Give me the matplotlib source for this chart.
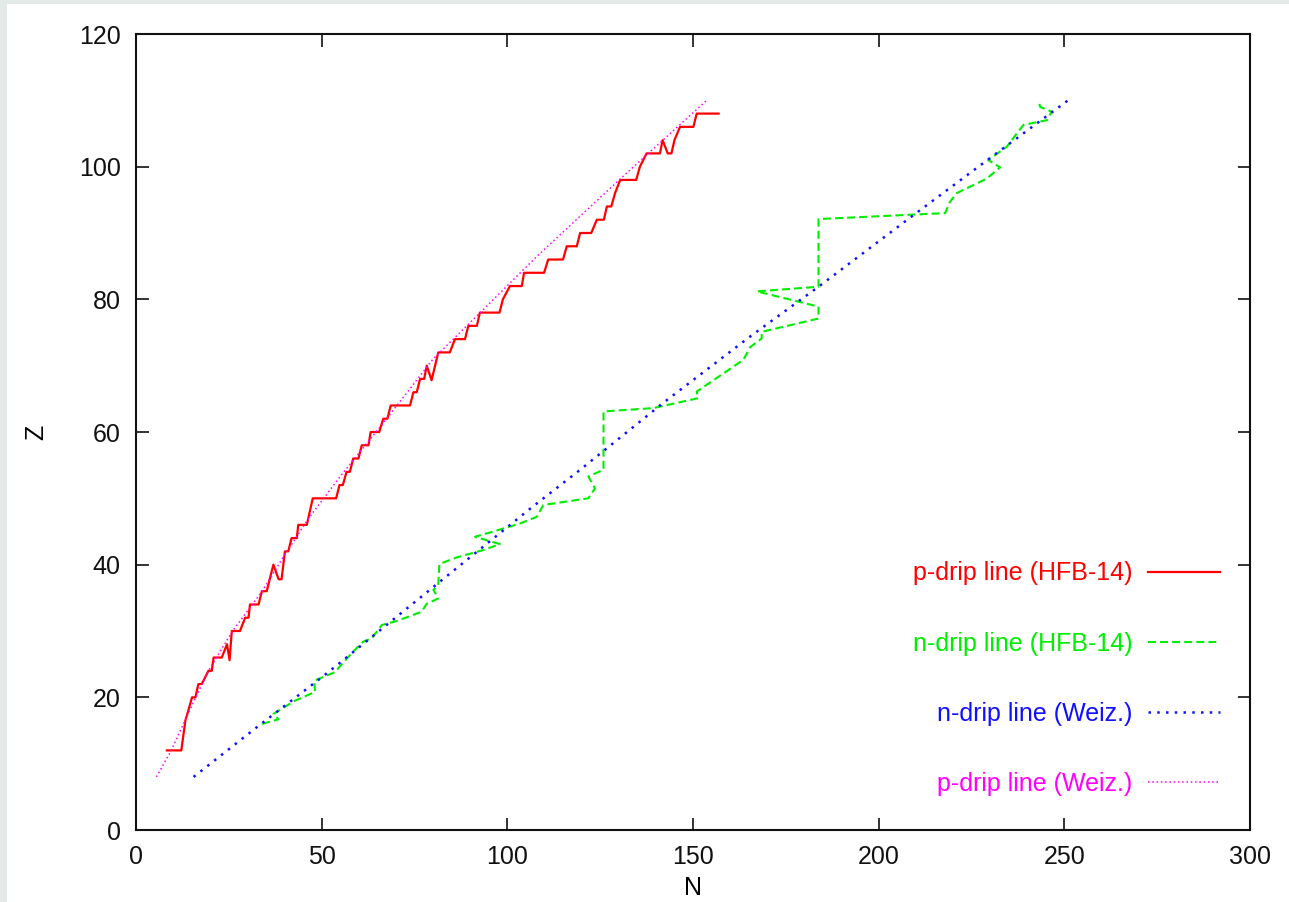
import matplotlib
matplotlib.use("Agg")
import matplotlib.pyplot as plt
from matplotlib.patches import Rectangle

# p-drip line (HFB-14): vertices
p_hfb_n = [8.3, 12.2, 13.3, 15.1, 16.0, 16.8, 17.7, 19.5, 20.4, 20.9, 23.1, 24.5, 25.2,
           25.8, 28.0, 29.4, 30.3, 30.7, 33.0, 33.9, 35.2, 36.1, 37.0, 38.4, 39.2, 40.1,
           41.0, 41.9, 43.3, 43.7, 46.0, 46.8, 47.6, 53.9, 54.8, 55.7, 56.7, 57.6, 58.5,
           59.9, 60.8, 62.6, 63.2, 65.5, 66.6, 67.7, 68.6, 73.8, 74.7, 75.6, 76.5, 77.6,
           78.3, 79.6, 81.4, 84.5, 85.9, 88.6, 89.5, 91.8, 92.6, 97.9, 98.8, 100.7, 103.9,
           104.5, 109.9, 111.0, 115.0, 116.0, 118.7, 119.6, 122.6, 124.1, 126.0, 126.8,
           128.0, 129.0, 130.4, 134.7, 135.7, 137.5, 141.1, 141.8, 143.2, 144.2, 145.0,
           146.5, 150.1, 151.0, 156.9]
p_hfb_z = [12, 12, 16.5, 20, 20, 22, 22, 24, 24, 26, 26, 28, 25.6,
           30, 30, 32, 32, 34, 34, 36, 36, 38, 40, 37.8, 37.8, 42,
           42, 44, 44, 46, 46, 48, 50, 50, 52, 52, 54, 54, 56,
           56, 58, 58, 60, 60, 62, 62, 64, 64, 66, 66, 68, 68,
           70, 67.8, 72, 72, 74, 74, 76, 76, 78, 78, 80, 82, 82,
           84, 84, 86, 86, 88, 88, 90, 90, 92, 92, 94,
           94, 96, 98, 98, 100, 102, 102, 104, 102, 102, 104,
           106, 106, 108, 108]

# n-drip line (HFB-14)
n_hfb_n = [34.0, 38.4, 37.0, 42.8, 48.2, 48.0, 53.6, 55.4, 58.5, 61.2, 63.5, 66.2, 70.2,
           76.9, 78.3, 81.4, 80.1, 81.4, 81.7, 86.4, 93.5, 98.0, 91.3, 96.2, 103.4, 107.9,
           109.7, 121.8, 123.6, 121.8, 125.9, 125.9, 139.3, 151.4, 151.0, 155.5, 163.6,
           165.4, 168.5, 168.5, 183.8, 183.8, 167.2, 183.8, 183.8, 217.9, 219.2, 221.0,
           229.1, 232.7, 229.5, 234.5, 237.2, 239.0, 245.3, 246.6, 243.5, 243.0]
n_hfb_z = [16.0, 16.7, 17.5, 19.5, 20.8, 22.5, 23.8, 25.0, 26.9, 28.4, 28.9, 30.9, 31.5,
           32.9, 34.1, 34.9, 36.2, 36.9, 40.1, 41.1, 42.2, 43.1, 44.2, 45.0, 46.2, 47.2,
           49.0, 50.0, 51.5, 53.3, 54.3, 63.1, 63.6, 65.1, 66.1, 67.8, 70.9,
           72.8, 74.1, 75.1, 77.1, 78.9, 81.2, 81.9, 92.1, 93.0, 94.7, 96.0,
           98.2, 99.9, 101.0, 103.0, 105.0, 106.3, 107.0, 108.3, 109.0, 110.0]

# n-drip line (Weizsaecker)
n_weiz_n = [15.5, 33.0, 50.0, 54.9, 80.0, 106.5, 119.6, 142.0, 165.4, 183.8, 208.9, 230.0, 251.0]
n_weiz_z = [8.0, 15.7, 23.0, 25.2, 36.6, 48.6, 54.3, 64.4, 74.4, 81.9, 92.5, 101.3, 110.0]

# p-drip line (Weizsaecker)
p_weiz_n = [5.5, 9.5, 14.0, 19.5, 26.0, 34.0, 39.5, 46.5, 55.0, 67.5, 80.0, 94.5, 108.0,
            130.5, 153.7]
p_weiz_z = [8.0, 12.0, 17.5, 24.0, 30.0, 36.0, 41.0, 47.0, 53.3, 62.0, 71.0, 79.0, 86.5,
            98.2, 110.0]

plt.rcParams['font.family'] = ['Liberation Sans', 'DejaVu Sans']
plt.rcParams['font.size'] = 18

fig = plt.figure(figsize=(12.89, 9.02), dpi=100, facecolor='#e3eae8')
fig.patches.append(Rectangle((7 / 1289, 0), 1, 1 - 4 / 902, transform=fig.transFigure,
                             facecolor='white', edgecolor='none', zorder=-1))
ax = fig.add_axes([136 / 1289, 1 - 830 / 902, 1114 / 1289, 796 / 902])

ax.plot(p_hfb_n, p_hfb_z, color='#ff0000', lw=1.6, label='p-drip line (HFB-14)')
ax.plot(n_hfb_n, n_hfb_z, color='#00ee00', lw=1.5, linestyle=(0, (3.8, 2.0)),
        label='n-drip line (HFB-14)')
ax.plot(n_weiz_n, n_weiz_z, color='#1010ff', lw=1.8, linestyle=(0, (1.0, 2.5)),
        label='n-drip line (Weiz.)')
ax.plot(p_weiz_n, p_weiz_z, color='#ff00ff', lw=1.1, linestyle=(0, (1.0, 1.8)),
        label='p-drip line (Weiz.)')

ax.set_xlim(0, 300)
ax.set_ylim(0, 120)
ax.set_xticks(range(0, 301, 50))
ax.set_yticks(range(0, 121, 20))
ax.tick_params(direction='in', length=9, width=1.2, top=True, right=True, pad=11,
               colors='#111111', labelsize=18)
for s in ax.spines.values():
    s.set_linewidth(1.5)
    s.set_color('#111111')
ax.set_xlabel('N', labelpad=5)
ax.set_ylabel('Z', labelpad=22)

ax.legend(loc='lower right', bbox_to_anchor=(0.984, 0.027), frameon=False,
          markerfirst=False, labelcolor='linecolor', handlelength=2.85,
          handletextpad=0.65, labelspacing=1.85, borderpad=0, fontsize=18)

fig.savefig('out.png', dpi=100, facecolor=fig.get_facecolor())
